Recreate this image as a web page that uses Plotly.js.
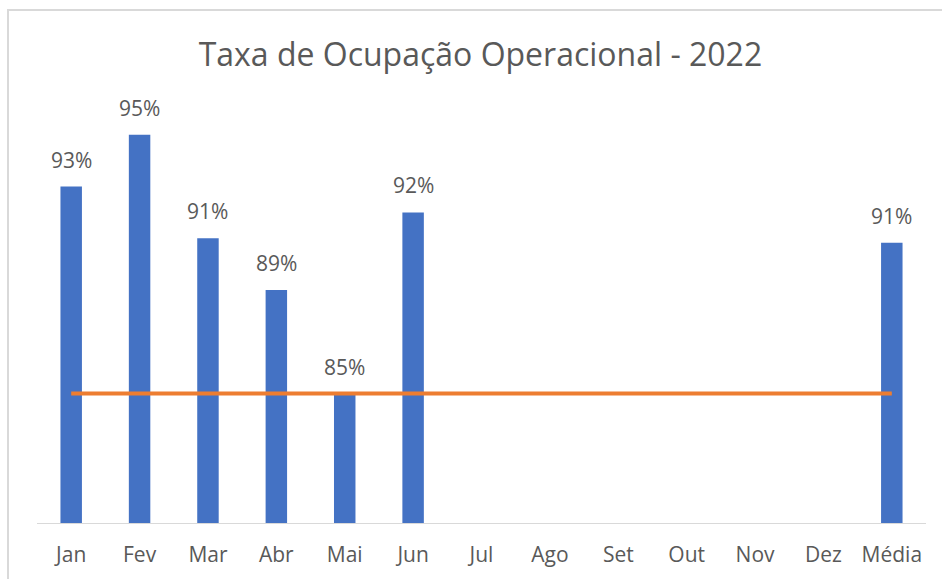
<!DOCTYPE html>
<html>
<head>
<meta charset="utf-8">
<script src="https://cdn.plot.ly/plotly-3.0.1.min.js"></script>
<style>
  html, body { margin: 0; padding: 0; background: #ffffff; }
  #wrap { position: relative; width: 942px; height: 579px; overflow: hidden; }
  #chart { position: absolute; left: 0; top: 0; width: 942px; height: 579px; }
  #frame { position: absolute; left: 7px; top: 9px; right: -10px; bottom: -10px;
           border-top: 2px solid #d9d9d9; border-left: 2px solid #d9d9d9; pointer-events: none; }
</style>
</head>
<body>
<div id="wrap">
  <div id="chart"></div>
  <div id="frame"></div>
</div>
<script>
// Data (percent)
const categories = ["Jan", "Fev", "Mar", "Abr", "Mai", "Jun", "Jul", "Ago", "Set", "Out", "Nov", "Dez", "Média"];
const occupancy = [93, 95, 91, 89, 85, 92, null, null, null, null, null, null, 90.83];
const referenceLine = [85, 85, 85, 85, 85, 85, 85, 85, 85, 85, 85, 85, 85];
const chartTitle = "Taxa de Ocupação Operacional - 2022";

const FONT = "'Open Sans', 'Noto Sans', sans-serif";
const GREY = "#595959";

const barTrace = {
  type: "bar",
  x: categories,
  y: occupancy,
  marker: { color: "#4472c4" },
  hoverinfo: "x+y",
  showlegend: false
};

const lineTrace = {
  type: "scatter",
  mode: "lines",
  x: categories,
  y: referenceLine,
  line: { color: "#ed7d31", width: 4 },
  showlegend: false
};

const annotations = [];
categories.forEach((c, i) => {
  if (occupancy[i] !== null) {
    annotations.push({
      x: c, y: occupancy[i], xref: "x", yref: "y",
      text: Math.round(occupancy[i]) + "%",
      showarrow: false, yanchor: "bottom", yshift: 11,
      font: { family: FONT, size: 21, color: GREY }
    });
  }
});

const layout = {
  width: 942, height: 579,
  margin: { l: 37, r: 16, t: 83, b: 56 },
  paper_bgcolor: "#ffffff",
  plot_bgcolor: "#ffffff",
  bargap: 0.686,
  title: {
    text: chartTitle,
    font: { family: FONT, size: 32, color: GREY },
    x: 0.51, xref: "container", xanchor: "center",
    y: 0.905, yref: "container", yanchor: "middle"
  },
  xaxis: {
    type: "category",
    showline: true, linecolor: "#d9d9d9", linewidth: 1,
    ticks: "", showgrid: false, zeroline: false,
    tickfont: { family: FONT, size: 21, color: GREY },
    ticklabelstandoff: 13,
    fixedrange: true
  },
  yaxis: {
    range: [80, 97.0],
    showticklabels: false, showgrid: false, zeroline: false, showline: false, ticks: "",
    fixedrange: true
  },
  annotations: annotations
};

Plotly.newPlot("chart", [barTrace, lineTrace], layout, { displayModeBar: false, staticPlot: true });
</script>
</body>
</html>
